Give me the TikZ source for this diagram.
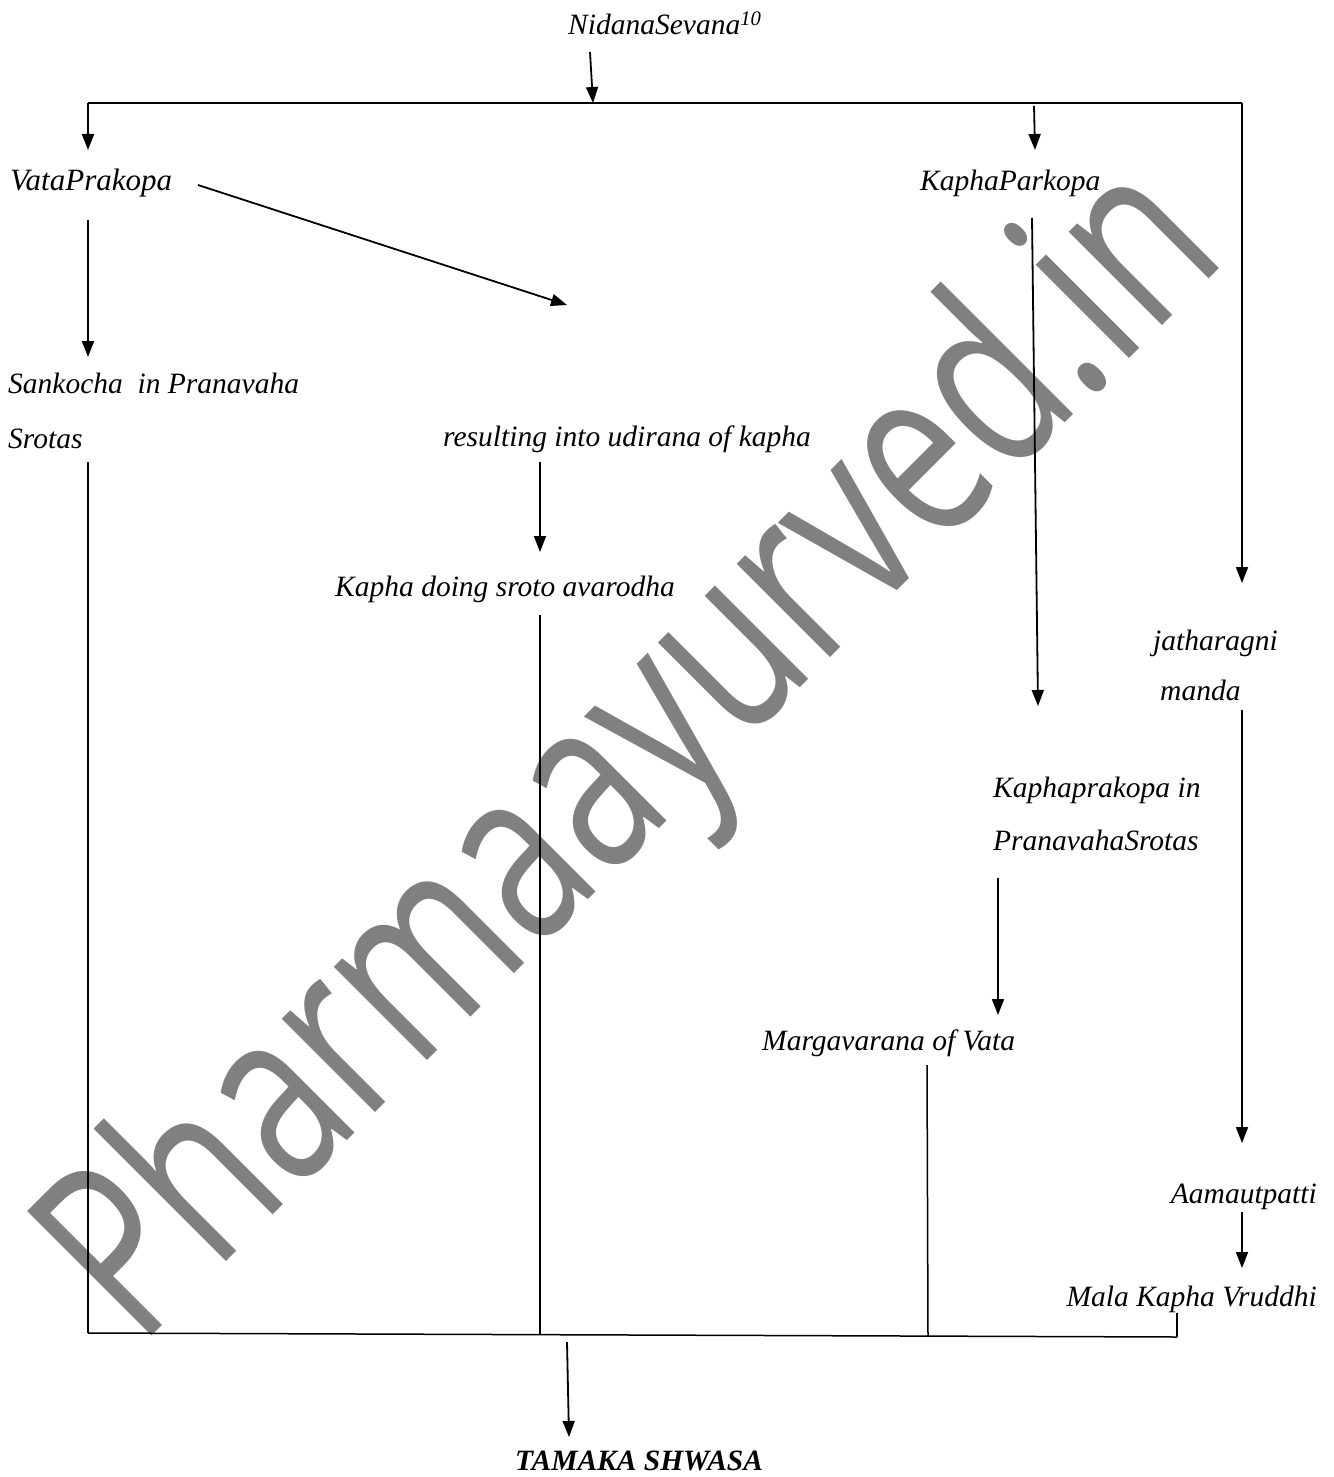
\documentclass[tikz,border=0pt]{standalone}
\usepackage{fontspec}
\setmainfont{Liberation Serif}
\newfontfamily\wmfont{Open Sans}
\usetikzlibrary{arrows.meta}
\begin{document}
\begin{tikzpicture}[x=1pt,y=-1pt,
  lbl/.style={font=\fontsize{29.5}{35}\selectfont\itshape, inner sep=0pt},
  arr/.style={line width=1.8pt, -{Triangle[length=16pt,width=12pt]}},
  ln/.style={line width=1.5pt}]
\useasboundingbox[fill=white] (0,0) rectangle (1333,1477);
% watermark
\node[anchor=base west, rotate=45, inner sep=0pt, text=black!50,
      font=\wmfont\fontsize{170}{170}\selectfont] (wm) at (139,1349)
      {\scalebox{1.06}[1.45]{Pharmaayurved.in}};
% labels
\node[lbl, anchor=base west] (nid) at (568,35) {NidanaSevana\textsuperscript{10}};
\node[lbl, anchor=base west, font=\fontsize{31}{35}\selectfont\itshape] (vata) at (10,190) {VataPrakopa};
\node[lbl, anchor=base west] (kapha) at (920,190) {KaphaParkopa};
\node[lbl, anchor=base west] (sank1) at (8,393) {Sankocha\ \ in Pranavaha};
\node[lbl, anchor=base west] (sank2) at (8,448) {Srotas};
\node[lbl, anchor=base west] (res) at (443,446) {resulting into udirana of kapha};
\node[lbl, anchor=base west] (kdo) at (335,596) {Kapha doing sroto avarodha};
\node[lbl, anchor=base west] (jat1) at (1153,650) {jatharagni};
\node[lbl, anchor=base west] (jat2) at (1160,700) {manda};
\node[lbl, anchor=base west] (kpi1) at (993,797) {Kaphaprakopa in};
\node[lbl, anchor=base west] (kpi2) at (993,850) {PranavahaSrotas};
\node[lbl, anchor=base west] (marg) at (762,1050) {Margavarana of Vata};
\node[lbl, anchor=base east] (aama) at (1317,1203) {Aamautpatti};
\node[lbl, anchor=base east] (mala) at (1317,1306) {Mala Kapha Vruddhi};
\node[lbl, anchor=base west, font=\fontsize{29.5}{35}\selectfont\bfseries\itshape] (tam) at (515,1470) {TAMAKA SHWASA};
% junction coordinates
\coordinate (tl) at (88,103);
\coordinate (tm) at (593,103);
\coordinate (tr) at (1242,103);
\coordinate (bl) at (88,1333);
\coordinate (bk) at (540,1334);
\coordinate (bm) at (928,1336);
\coordinate (br) at (1177,1337);
% connectors
\draw[ln] (tl) -- (tr);
\draw[arr] (590,52) -- (tm);
\draw[arr] (tl) -- (88,150);
\draw[arr] (1034,106) -- (1035,150);
\draw[arr] (tr) -- (1242,583);
\draw[arr] (88,220) -- (88,357);
\draw[arr] (198,185) -- (567,305);
\draw[ln] (88,462) -- (bl);
\draw[arr] (540,462) -- (540,552);
\draw[ln] (540,615) -- (bk);
\draw[arr] (1032,218) -- (1038,706);
\draw[arr] (1242,710) -- (1242,1143);
\draw[arr] (998,878) -- (998,1015);
\draw[ln] (927,1065) -- (bm);
\draw[arr] (1242,1212) -- (1242,1268);
\draw[ln] (1177,1313) -- (br);
\draw[ln] (bl) -- (br);
\draw[arr] (567,1342) -- (569,1437);
\end{tikzpicture}
\end{document}
